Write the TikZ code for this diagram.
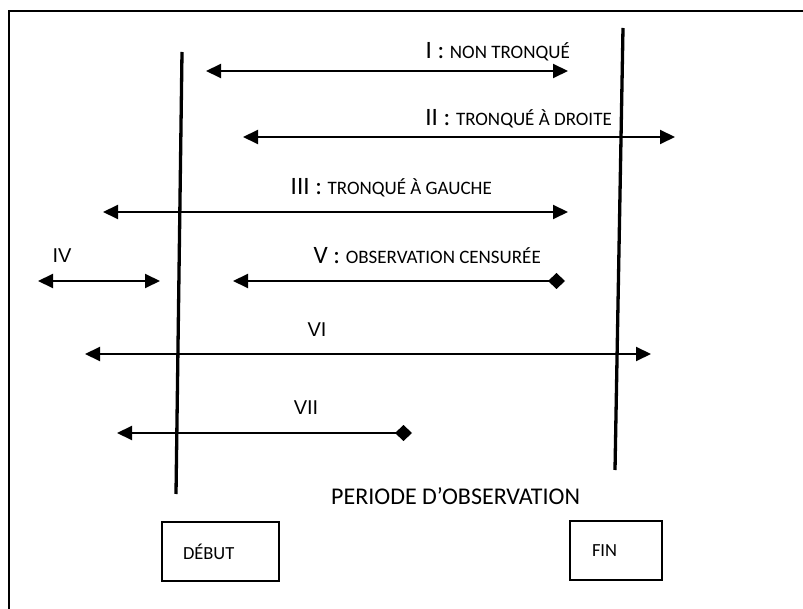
\documentclass[tikz,border=0pt]{standalone}
\usepackage{fontspec}
\setmainfont{Carlito}
\newfontfamily\arialfont{Liberation Sans}
\usetikzlibrary{arrows.meta}
\newcommand{\spantext}[2]{{\fontsize{25}{29}\selectfont #1 : }{\fontsize{19}{22}\selectfont #2}}

\begin{document}
\begin{tikzpicture}[x=1pt,y=-1pt]
\tikzstyle{period}=[line width=3.3pt]
\tikzstyle{span}=[line width=2pt, {Triangle[length=15pt,width=14pt]}-{Triangle[length=15pt,width=14pt]}]
\tikzstyle{censor}=[line width=2pt, {Triangle[length=15pt,width=14pt]}-{Diamond[length=17pt,width=16pt]}]
\tikzstyle{spanlabel}=[inner sep=0pt, anchor=base east]
\tikzstyle{roman}=[inner sep=0pt, anchor=base, font=\arialfont\fontsize{20}{24}\selectfont]
\tikzstyle{box}=[draw, line width=1.5pt, minimum height=59pt, align=left, font=\fontsize{18.5}{22}\selectfont]
\useasboundingbox (0,0) rectangle (803,609);
\draw[line width=1.8pt] (9,609) -- (9,11) -- (803,11);
\coordinate (debtop) at (182,52);
\coordinate (debbot) at (176,494);
\coordinate (fintop) at (623,28);
\coordinate (finbot) at (615,470);
\draw[period] (debtop) -- (debbot);
\draw[period] (fintop) -- (finbot);
\coordinate (i1) at (206,71);   \coordinate (i2) at (568,71);
\coordinate (ii1) at (243,137); \coordinate (ii2) at (675,137);
\coordinate (iii1) at (103,212); \coordinate (iii2) at (568,212);
\coordinate (iv1) at (38,281);  \coordinate (iv2) at (160,281);
\coordinate (v1) at (233,281);  \coordinate (v2) at (565,281);
\coordinate (vi1) at (85,354);  \coordinate (vi2) at (651,354);
\coordinate (vii1) at (117,433); \coordinate (vii2) at (412,433);
\draw[span] (i1) -- (i2);
\draw[span] (ii1) -- (ii2);
\draw[span] (iii1) -- (iii2);
\draw[span] (iv1) -- (iv2);
\draw[censor] (v1) -- (v2);
\draw[span] (vi1) -- (vi2);
\draw[censor] (vii1) -- (vii2);
\node (labi) [spanlabel] at (570,59) {\spantext{I}{NON TRONQUÉ}};
\node (labii) [spanlabel] at (612,126) {\spantext{II}{TRONQUÉ À DROITE}};
\node (labiii) [spanlabel] at (492,195) {\spantext{III}{TRONQUÉ À GAUCHE}};
\node (labv) [spanlabel] at (541,264) {\spantext{V}{OBSERVATION CENSURÉE}};
\node (labiv) [roman] at (62,263) {IV};
\node (labvi) [roman] at (317,337) {VI};
\node (labvii) [roman] at (306,414) {VII};
\node (periode) [inner sep=0pt, anchor=base west, font=\fontsize{24}{28}\selectfont] at (331,504) {PERIODE D’OBSERVATION};
\node (debut) [box, text width=75pt, inner xsep=21pt] at (220.5,551.5) {DÉBUT};
\node (fin) [box, text width=48pt, inner xsep=22pt] at (616,550.5) {FIN};
\end{tikzpicture}
\end{document}
